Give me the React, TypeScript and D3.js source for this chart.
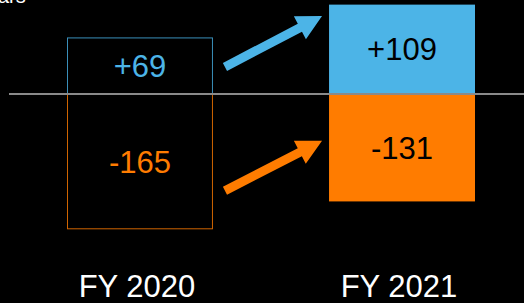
import React, { useEffect, useRef } from 'react';
import * as d3 from 'd3';

// fiscal years and the change in each direction
const years = ['FY 2020', 'FY 2021'];
const gains = [69, 109];
const losses = [-165, -131];
// arrows linking the two years, in data units (from FY 2020 value to FY 2021 value)
const arrowFrom = [33, -118];
const arrowTo = [95, -57];

const BLUE = '#4cb4e7';
const ORANGE = '#ff7c00';

const App = () => {
  const svgRef = useRef<SVGSVGElement>(null);

  useEffect(() => {
    const width = 524;
    const height = 303;
    const svg = d3.select(svgRef.current);
    svg.selectAll('*').remove();
    svg.attr('width', width).attr('height', height);

    svg.append('rect').attr('width', width).attr('height', height).attr('fill', '#000');

    const x = d3.scaleBand().domain(years).range([67, 475]).paddingInner(0.443).paddingOuter(0);
    const y = d3.scaleLinear().domain([0, 100]).range([94, 12]);
    const font = '"Liberation Sans", Arial, Helvetica, sans-serif';
    const fs = 31;

    // cut-off title fragment at the very top
    svg
      .append('text')
      .attr('x', -2)
      .attr('y', 3)
      .attr('fill', '#fff')
      .style('font-family', font)
      .style('font-size', '20px')
      .text('ars');

    const data = years.map((yr, i) => ({ yr, gain: gains[i], loss: losses[i], i }));

    // bars: outlined for 2020, filled for 2021
    const g = svg.append('g');
    data.forEach((d) => {
      const filled = d.i === 1;
      const bx = x(d.yr) as number;
      const bw = x.bandwidth();
      g.append('rect')
        .attr('x', filled ? bx : bx + 0.5)
        .attr('y', y(d.gain) + (filled ? 0 : 0.5))
        .attr('width', filled ? bw : bw - 1)
        .attr('height', y(0) - y(d.gain))
        .attr('fill', filled ? BLUE : 'none')
        .attr('stroke', filled ? 'none' : '#3a8fba')
        .attr('stroke-width', 1);
      g.append('rect')
        .attr('x', filled ? bx : bx + 0.5)
        .attr('y', y(0))
        .attr('width', filled ? bw : bw - 1)
        .attr('height', y(d.loss) - y(0) - (filled ? 0 : 0.5))
        .attr('fill', filled ? ORANGE : 'none')
        .attr('stroke', filled ? 'none' : '#d06400')
        .attr('stroke-width', 1);

      const cx = bx + bw / 2;
      g.append('text')
        .attr('x', cx)
        .attr('y', (y(d.gain) + y(0)) / 2 + fs * 0.36)
        .attr('text-anchor', 'middle')
        .attr('fill', filled ? '#000' : BLUE)
        .style('font-family', font)
        .style('font-size', fs + 'px')
        .text('+' + d.gain);
      g.append('text')
        .attr('x', cx)
        .attr('y', (y(d.loss) + y(0)) / 2 + fs * 0.36)
        .attr('text-anchor', 'middle')
        .attr('fill', filled ? '#000' : ORANGE)
        .style('font-family', font)
        .style('font-size', fs + 'px')
        .text(String(d.loss));

      g.append('text')
        .attr('x', cx - 3)
        .attr('y', 297)
        .attr('text-anchor', 'middle')
        .attr('fill', '#fff')
        .style('font-family', font)
        .style('font-size', fs + 'px')
        .text(d.yr);
    });

    // zero line
    svg
      .append('line')
      .attr('x1', 9)
      .attr('x2', width)
      .attr('y1', y(0))
      .attr('y2', y(0))
      .attr('stroke', '#8a8a8a')
      .attr('stroke-width', 2);

    // arrows
    const x0 = (x(years[0]) as number) + x.bandwidth() + 12;
    const x1 = (x(years[1]) as number) - 7;
    const arrow = (ax: number, ay: number, bx: number, by: number) => {
      const len = Math.hypot(bx - ax, by - ay);
      const ux = (bx - ax) / len;
      const uy = (by - ay) / len;
      const nx = -uy;
      const ny = ux;
      const sw = 4.5;
      const hw = 13;
      const hl = 25;
      const hx = bx - ux * hl;
      const hy = by - uy * hl;
      const pts: [number, number][] = [
        [ax + nx * sw, ay + ny * sw],
        [hx + nx * sw, hy + ny * sw],
        [hx + nx * hw, hy + ny * hw],
        [bx, by],
        [hx - nx * hw, hy - ny * hw],
        [hx - nx * sw, hy - ny * sw],
        [ax - nx * sw, ay - ny * sw],
      ];
      return d3.line()(pts) + 'Z';
    };
    [BLUE, ORANGE].forEach((c, i) => {
      svg
        .append('path')
        .attr('d', arrow(x0, y(arrowFrom[i]), x1, y(arrowTo[i])))
        .attr('fill', c);
    });
  }, []);

  return (
    <div style={{ position: 'fixed', left: 0, top: 0, background: '#000' }}>
      <svg ref={svgRef} style={{ display: 'block' }}></svg>
    </div>
  );
};

export default App;
